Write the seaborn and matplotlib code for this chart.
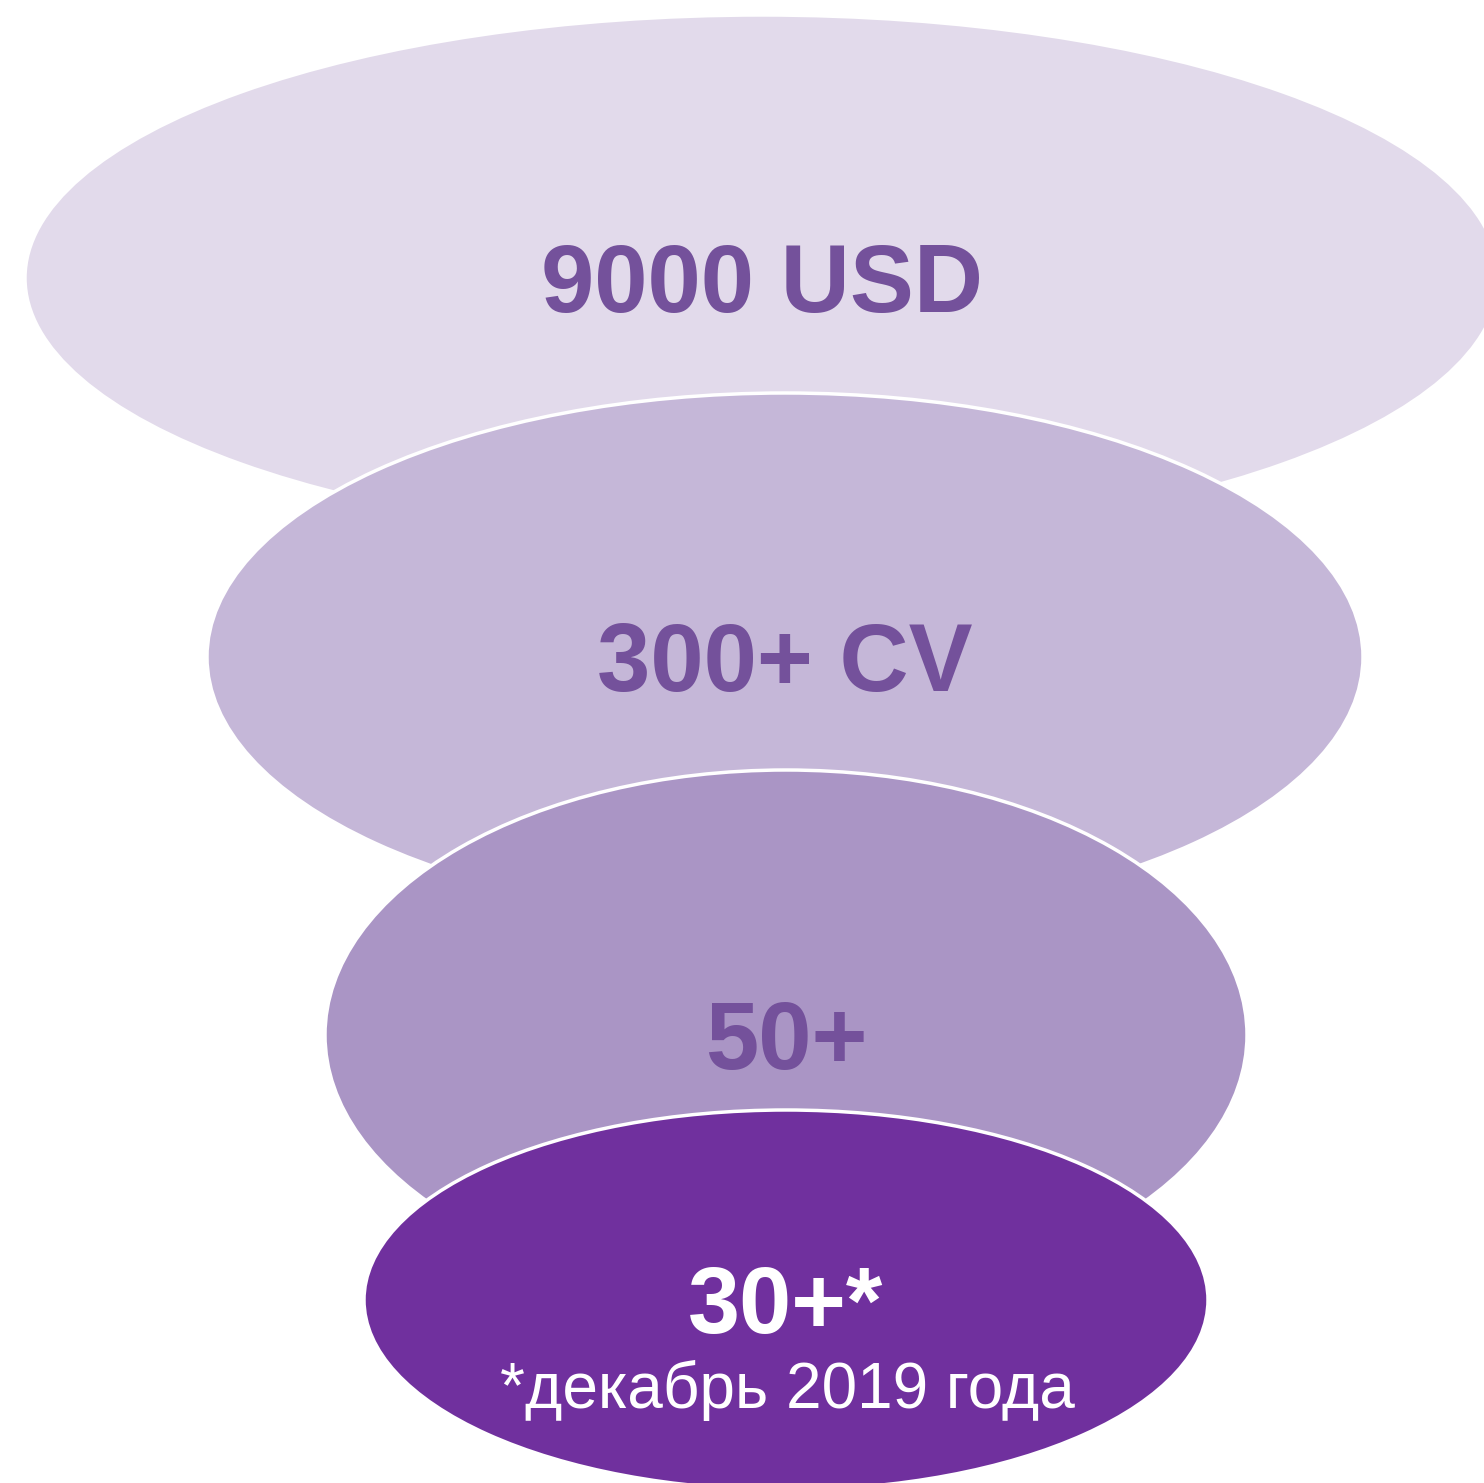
import matplotlib
matplotlib.use("Agg")
import matplotlib.pyplot as plt
from matplotlib.patches import Ellipse
import seaborn as sns

# funnel stages, top to bottom
labels = ["9000 USD", "300+ CV", "50+", "30+*"]
footnote = "*декабрь 2019 года"
fill_colors = ["#E2DAEB", "#C5B7D8", "#AA95C5", "#70309E"]
text_colors = ["#74519B", "#74519B", "#74519B", "#FFFFFF"]

# layout in pixel coordinates (centre x, centre y, width, height)
cx = [762, 785, 786, 786]
cy = [278, 657, 1035, 1300]
widths = [1474, 1156, 922, 844]
heights = [526, 528, 530, 380]
font_sizes = [69, 69, 69, 67.5]

sns.set_theme(style="white")
plt.rcParams["font.family"] = ["Liberation Sans", "DejaVu Sans"]

fig = plt.figure(figsize=(14.84, 14.83), dpi=100)
ax = fig.add_axes([0, 0, 1, 1])
ax.set_xlim(0, 1484)
ax.set_ylim(1483, 0)
ax.axis("off")

for i, lab in enumerate(labels):
    ax.add_patch(Ellipse((cx[i], cy[i]), widths[i], heights[i],
                         facecolor=fill_colors[i], edgecolor="white",
                         linewidth=2.5, zorder=i + 1))
    ax.text(cx[i], cy[i] + 9, lab, ha="center", va="center",
            fontsize=font_sizes[i], fontweight="bold",
            color=text_colors[i], zorder=10)

ax.text(cx[3] + 1, 1390, footnote, ha="center", va="center",
        fontsize=46, color="white", zorder=10)

fig.savefig("out.png", dpi=100)
